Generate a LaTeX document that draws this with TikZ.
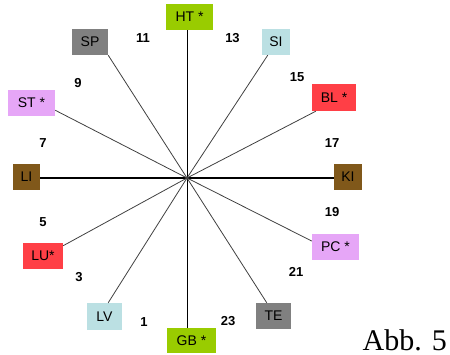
\documentclass[tikz,border=0pt]{standalone}
\usepackage{fontspec}
\setmainfont{Liberation Serif}
\setsansfont{Liberation Sans}
\usetikzlibrary{arrows,matrix}
\definecolor{hgreen}{RGB}{153,204,0}
\definecolor{hgray}{RGB}{128,128,128}
\definecolor{hblue}{RGB}{187,224,227}
\definecolor{hred}{RGB}{255,63,70}
\definecolor{hbrown}{RGB}{128,88,26}
\definecolor{hpink}{RGB}{230,166,247}

\begin{document}
\begin{tikzpicture}[x=1pt,y=-1pt,
box/.style = {fill=#1, minimum height=26pt, inner sep=0pt,
  font=\sffamily\fontsize{14}{14}\selectfont},
num/.style = {font=\sffamily\bfseries\fontsize{13}{13}\selectfont},
spoke/.style = {draw=black!75, line width=0.8pt}]
\useasboundingbox (0,0) rectangle (450,355);
\coordinate (c) at (187,178);
\node[box=hgreen, minimum width=47pt] (HT) at (189.5,17) {HT *};
\node[box=hgray, minimum width=36pt] (SP) at (90,42) {SP};
\node[box=hblue, minimum width=28pt] (SI) at (276,42) {SI};
\node[box=hpink, minimum width=47pt] (ST) at (31.5,103) {ST *};
\node[box=hred, minimum width=44pt, minimum height=27pt] (BL) at (334,97.5) {BL *};
\node[box=hbrown, minimum width=27pt] (LI) at (26.5,177) {LI};
\node[box=hbrown, minimum width=28pt] (KI) at (348,177) {KI};
\node[box=hred, minimum width=40pt] (LU) at (43,256) {LU*};
\node[box=hpink, minimum width=47pt] (PC) at (335.5,247) {PC *};
\node[box=hblue, minimum width=35pt, minimum height=27pt] (LV) at (104.5,316.5) {LV};
\node[box=hgreen, minimum width=49pt, minimum height=25pt] (GB) at (191.5,340.5) {GB *};
\node[box=hgray, minimum width=35pt] (TE) at (273.5,316) {TE};
\node[num] (n11) at (143,38) {11};
\node[num] (n13) at (232.5,38) {13};
\node[num] (n9) at (78,83) {9};
\node[num] (n15) at (297,77) {15};
\node[num] (n7) at (43,143) {7};
\node[num] (n17) at (332,143) {17};
\node[num] (n5) at (43,222) {5};
\node[num] (n19) at (332,212) {19};
\node[num] (n3) at (79,277) {3};
\node[num] (n21) at (296,272) {21};
\node[num] (n1) at (144,322) {1};
\node[num] (n23) at (228,321) {23};
\node[font=\fontsize{30}{30}\selectfont, inner sep=0pt, anchor=base east] (abb) at (447,351) {Abb. 5};
\draw[line width=1.5pt] (c -| LI.east) -- (c -| KI.west);
\draw[line width=0.8pt] (c |- HT.south) -- (c |- GB.north);
\draw[spoke] (c) -- (SP.south east);
\draw[spoke] (c) -- (SI.-122);
\draw[spoke] (c) -- (BL.-143);
\draw[spoke] (c) -- (ST.-17);
\draw[spoke] (c) -- (PC.166);
\draw[spoke] (c) -- (TE.117);
\draw[spoke] (c) -- (LV.75);
\draw[spoke] (c) -- (LU.27);
\end{tikzpicture}
\end{document}
